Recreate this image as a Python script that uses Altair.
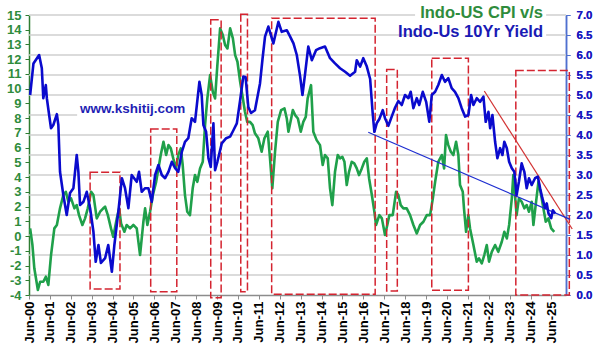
import altair as alt
import pandas as pd

# ---------------- data ----------------
# Indo-US 10Yr yield differential (right axis), decimal years
blue_t = [2000.47, 2000.63, 2000.90, 2001.03, 2001.10, 2001.22, 2001.27, 2001.38, 2001.47, 2001.58,
          2001.75, 2001.82, 2001.90, 2002.06, 2002.22, 2002.38, 2002.54, 2002.70, 2002.78, 2002.86,
          2003.02, 2003.18, 2003.34, 2003.50, 2003.61, 2003.74, 2003.86, 2004.06, 2004.21, 2004.38,
          2004.50, 2004.69, 2004.86, 2005.01, 2005.17, 2005.33, 2005.57, 2005.68, 2005.81, 2005.97,
          2006.13, 2006.29, 2006.45, 2006.61, 2006.77, 2006.93, 2007.09, 2007.25, 2007.41, 2007.56,
          2007.73, 2007.88, 2008.04, 2008.20, 2008.36, 2008.57, 2008.68, 2008.76, 2008.89, 2009.00,
          2009.11, 2009.24, 2009.32, 2009.43, 2009.64, 2009.85, 2010.04, 2010.18, 2010.36, 2010.52,
          2010.67, 2010.78, 2010.91, 2011.04, 2011.23, 2011.47, 2011.59, 2011.71, 2011.87, 2012.11,
          2012.35, 2012.51, 2012.75, 2012.91, 2013.07, 2013.23, 2013.39, 2013.50, 2013.63, 2013.78,
          2013.95, 2014.15, 2014.34, 2014.58, 2014.82, 2015.06, 2015.30, 2015.54, 2015.78, 2016.02,
          2016.10, 2016.26, 2016.41, 2016.58, 2016.74, 2016.86, 2016.94, 2017.06, 2017.18, 2017.34,
          2017.45, 2017.61, 2017.77, 2017.93, 2018.09, 2018.25, 2018.41, 2018.57, 2018.68, 2018.81,
          2018.97, 2019.09, 2019.26, 2019.42, 2019.57, 2019.69, 2019.85, 2020.00, 2020.17, 2020.32,
          2020.48, 2020.64, 2020.80, 2020.96, 2021.12, 2021.28, 2021.44, 2021.57, 2021.68, 2021.84,
          2022.00, 2022.16, 2022.27, 2022.40, 2022.48, 2022.59, 2022.72, 2022.83, 2022.96, 2023.07,
          2023.16, 2023.28, 2023.39, 2023.52, 2023.64, 2023.75, 2023.86, 2023.99, 2024.12, 2024.23,
          2024.34, 2024.47, 2024.63, 2024.76, 2024.87, 2024.98, 2025.11, 2025.19, 2025.27, 2025.40,
          2025.48, 2025.59]
blue_v = [5.0, 5.79, 6.0, 5.67, 4.92, 5.25, 4.92, 4.5, 4.17, 4.25,
          4.52, 4.25, 3.08, 2.5, 2.0, 2.55, 2.67, 3.5, 3.08, 2.25,
          2.33, 2.58, 2.17, 1.58, 0.83, 1.25, 0.8, 0.92, 1.25, 0.58,
          1.25, 2.08, 2.92, 2.67, 2.17, 3.0, 2.83, 3.08, 2.58, 2.67,
          2.67, 2.33, 3.0, 3.25, 3.0, 2.92, 3.08, 3.33, 3.17, 3.08,
          3.58, 3.83, 3.92, 4.42, 4.33, 5.33, 5.0, 4.25, 4.08, 3.42,
          3.2, 4.29, 3.12, 3.33, 3.79, 3.92, 3.96, 4.1, 4.29, 4.87,
          5.46, 5.45, 4.7, 4.55, 4.62, 5.29, 5.9, 6.46, 6.71, 6.29,
          6.83, 6.58, 6.62, 6.46, 6.29, 6.0, 5.46, 5.0, 5.54, 6.21,
          5.87, 6.12, 6.17, 6.21, 5.92, 5.79, 5.67, 5.58, 5.48, 5.58,
          5.87, 5.71, 5.92, 5.71, 5.4, 4.55, 4.08, 4.3, 4.4, 4.62,
          4.42, 4.23, 4.46, 4.68, 4.85, 4.75, 5.0, 4.92, 5.08, 4.67,
          4.92, 4.75, 5.08, 4.83, 4.33, 5.0, 5.08, 5.25, 5.5, 5.33,
          5.42, 5.17, 5.08, 4.92, 4.67, 4.46, 4.5, 5.0, 4.75, 4.92,
          4.83, 4.96, 4.33, 4.58, 4.17, 4.5, 3.83, 3.42, 3.67, 3.5,
          3.83, 3.67, 3.33, 3.17, 3.08, 2.5, 2.83, 3.29, 3.08, 2.67,
          2.92, 2.75, 2.92, 2.96, 2.67, 2.42, 2.17, 2.29, 2.04, 1.92,
          2.12, 2.04]

# Indo-US CPI differential (left axis), decimal years
green_t = [2000.47, 2000.58, 2000.67, 2000.84, 2000.95, 2001.10, 2001.22, 2001.34, 2001.47, 2001.63,
           2001.75, 2001.90, 2002.06, 2002.18, 2002.30, 2002.43, 2002.59, 2002.70, 2002.81, 2002.97,
           2003.10, 2003.23, 2003.39, 2003.50, 2003.66, 2003.82, 2003.97, 2004.06, 2004.19, 2004.34,
           2004.45, 2004.62, 2004.73, 2004.82, 2004.98, 2005.09, 2005.25, 2005.41, 2005.57, 2005.73,
           2005.89, 2005.97, 2006.08, 2006.21, 2006.34, 2006.50, 2006.61, 2006.72, 2006.85, 2006.98,
           2007.09, 2007.20, 2007.32, 2007.45, 2007.56, 2007.68, 2007.77, 2007.88, 2007.99, 2008.12,
           2008.25, 2008.36, 2008.47, 2008.60, 2008.73, 2008.84, 2008.95, 2009.08, 2009.21, 2009.32,
           2009.43, 2009.56, 2009.69, 2009.80, 2009.91, 2010.04, 2010.17, 2010.28, 2010.39, 2010.52,
           2010.65, 2010.75, 2010.86, 2010.99, 2011.12, 2011.23, 2011.39, 2011.55, 2011.68, 2011.84,
           2011.95, 2012.06, 2012.19, 2012.32, 2012.48, 2012.64, 2012.75, 2012.83, 2012.96, 2013.04,
           2013.15, 2013.28, 2013.42, 2013.54, 2013.66, 2013.75, 2013.91, 2014.02, 2014.18, 2014.34,
           2014.47, 2014.58, 2014.71, 2014.82, 2014.93, 2015.06, 2015.19, 2015.30, 2015.41, 2015.51,
           2015.62, 2015.73, 2015.86, 2015.98, 2016.10, 2016.21, 2016.34, 2016.46, 2016.58, 2016.69,
           2016.82, 2016.94, 2017.02, 2017.18, 2017.30, 2017.45, 2017.56, 2017.66, 2017.82, 2017.98,
           2018.09, 2018.20, 2018.33, 2018.49, 2018.65, 2018.81, 2018.97, 2019.13, 2019.29, 2019.45,
           2019.61, 2019.74, 2019.85, 2020.00, 2020.17, 2020.28, 2020.37, 2020.48, 2020.60, 2020.72,
           2020.85, 2020.96, 2021.04, 2021.17, 2021.23, 2021.33, 2021.44, 2021.52, 2021.68, 2021.84,
           2021.95, 2022.08, 2022.20, 2022.32, 2022.43, 2022.56, 2022.72, 2022.87, 2023.04, 2023.16,
           2023.28, 2023.39, 2023.52, 2023.59, 2023.67, 2023.75, 2023.86, 2023.99, 2024.12, 2024.23,
           2024.34, 2024.47, 2024.55, 2024.66, 2024.79, 2024.92, 2025.03, 2025.14, 2025.27, 2025.40,
           2025.55]
green_v = [0.52, -0.61, -2.19, -3.66, -3.1, -3.1, -2.76, -3.32, -1.29, 0.52,
           0.75, 1.88, 2.78, 3.0, 2.33, 2.56, 1.88, 2.1, 1.42, 0.75,
           1.2, 1.88, 3.0, 2.78, 1.2, 1.65, 1.88, 1.99, 1.42, 0.52,
           -0.05, 1.2, 1.88, 0.86, 0.29, 0.75, 0.52, 0.75, 0.52, -1.29,
           0.97, 1.88, 0.75, 1.65, 2.78, 3.68, 4.59, 5.5, 6.4, 5.5,
           6.17, 5.95, 5.27, 4.59, 5.5, 5.95, 4.82, 2.78, 1.65, 1.42,
           3.24, 4.14, 3.68, 4.59, 5.04, 7.53, 9.34, 10.92, 9.79, 9.34,
           11.6, 14.09, 13.64, 12.96, 12.73, 14.09, 13.41, 12.28, 11.83, 10.47,
           9.34, 8.43, 7.75, 7.75, 7.53, 6.97, 6.63, 5.72, 6.63, 7.08,
           5.27, 3.24, 5.72, 7.75, 8.55, 8.66, 7.98, 7.08, 7.98, 8.55,
           8.21, 7.98, 7.08, 7.75, 8.09, 9.34, 10.24, 7.08, 6.51, 6.17,
           4.82, 5.5, 5.27, 3.24, 2.1, 4.36, 5.5, 5.27, 5.38, 5.04,
           3.46, 4.36, 5.04, 4.93, 4.59, 4.14, 4.59, 5.04, 5.27, 3.91,
           2.78, 1.65, 0.75, 1.42, 1.2, 0.07, 0.75, 1.42, 1.42, 3.0,
           2.78, 2.1, 1.88, 1.88, 1.42, 0.75, 0.18, 0.75, 0.97, 1.42,
           1.42, 2.56, 3.68, 5.04, 5.5, 4.59, 6.85, 6.17, 5.72, 5.5,
           6.4, 5.5, 3.46, 3.0, 1.88, 0.29, 1.42, 0.52, -0.61, -1.74,
           -1.51, -1.85, -1.29, -0.61, -1.74, -1.07, -0.61, -1.07, -0.39, 0.29,
           -0.16, 0.75, 2.56, 4.14, 2.78, 1.42, 2.56, 2.33, 1.88, 2.1,
           1.65, 2.33, 0.75, 2.1, 3.68, 2.78, 1.88, 0.97, 1.2, 0.52,
           0.29]

# red dashed boxes (decimal years, right-axis units)
box_x1 = [2003.34, 2006.24, 2009.11, 2010.55, 2012.03, 2017.53, 2019.69, 2023.71]
box_x2 = [2004.77, 2007.49, 2009.61, 2010.87, 2016.98, 2018.04, 2021.44, 2026.27]
box_y1 = [0.15, 0.08, -0.07, 0.08, 0.02, 0.10, 0.12, 0.0]
box_y2 = [3.07, 4.15, 6.88, 7.02, 6.92, 5.64, 5.92, 5.61]

# trend lines: red down-trend and blue long-term trend (right-axis units)
trend_x1 = [2022.20, 2016.65]
trend_x2 = [2026.41, 2026.31]
trend_y1 = [5.10, 4.07]
trend_y2 = [1.65, 1.89]
trend_color = ["#D23232", "#1E2ED0"]

# text annotations
title_lines = ["Indo-US CPI v/s", "Indo-Us 10Yr Yield"]
title_colors = ["#2F8C3C", "#1A1AB4"]
title_x = [2025.01, 2025.01]
title_y = [6.92, 6.44]
site_label = ["www.kshitij.com"]
site_x = [2002.86]
site_y = [4.54]
# white backgrounds behind the text boxes
bg_x1 = [2018.89, 2002.72]
bg_x2 = [2025.16, 2008.12]
bg_y1 = [6.33, 4.42]
bg_y2 = [7.30, 4.90]

left_ticks = [-4, -3, -2, -1, 0, 1, 2, 3, 4, 5, 6, 7, 8, 9, 10, 11, 12, 13, 14, 15]
right_ticks = [0.0, 0.5, 1.0, 1.5, 2.0, 2.5, 3.0, 3.5, 4.0, 4.5, 5.0, 5.5, 6.0, 6.5, 7.0]
x_tick_years = list(range(2000, 2026))
grid_ends = [2000.42, 2026.11]


def dec_to_date(d):
    y = int(d)
    s = pd.Timestamp(year=y, month=1, day=1)
    e = pd.Timestamp(year=y + 1, month=1, day=1)
    return (s + (e - s) * (d - y)).strftime("%Y-%m-%d")


blue_df = pd.DataFrame({"date": [dec_to_date(t) for t in blue_t], "yield_diff": blue_v})
green_df = pd.DataFrame({"date": [dec_to_date(t) for t in green_t], "cpi_diff": green_v})
# gridlines as two-point lines, one per right-axis tick
grid_rows = [{"date": dec_to_date(e), "yield_diff": g, "gid": str(g)}
             for g in right_ticks[1:] for e in grid_ends]
grid_df = pd.DataFrame(grid_rows)
box_df = pd.DataFrame({"date": [dec_to_date(t) for t in box_x1], "x2": [dec_to_date(t) for t in box_x2],
                       "yield_diff": box_y1, "y2": box_y2})
trend_df = pd.DataFrame({"date": [dec_to_date(t) for t in trend_x1], "x2": [dec_to_date(t) for t in trend_x2],
                         "yield_diff": trend_y1, "y2": trend_y2, "c": trend_color})
title_df = pd.DataFrame({"date": [dec_to_date(t) for t in title_x], "yield_diff": title_y,
                         "label": title_lines, "c": title_colors})
site_df = pd.DataFrame({"date": [dec_to_date(t) for t in site_x], "yield_diff": site_y, "label": site_label})
bg_df = pd.DataFrame({"date": [dec_to_date(t) for t in bg_x1], "x2": [dec_to_date(t) for t in bg_x2],
                      "yield_diff": bg_y1, "y2": bg_y2})

FONT = "Liberation Sans"

x_scale = alt.Scale(type="utc", domain=[alt.DateTime(year=2000, month=6, date=1, utc=True),
                                        alt.DateTime(year=2026, month=2, date=10, utc=True)])
x_axis = alt.Axis(
    values=[alt.DateTime(year=y, month=6, date=1, utc=True) for y in x_tick_years],
    labelExpr="utcFormat(datum.value, '%b-%y')",
    labelAngle=-90, labelFont=FONT, labelFontSize=13, labelFontWeight="bold",
    labelColor="#000000", labelPadding=2, labelFlush=False, labelOverlap=False,
    tickSize=4, tickColor="#8C8C8C", domainColor="#8C8C8C", domainWidth=1.5,
    grid=False, title=None,
)

y_left = alt.Scale(domain=[-4, 15], nice=False, zero=False)
y_right = alt.Scale(domain=[0, 7], nice=False, zero=False)
left_axis = alt.Axis(
    orient="left", values=left_ticks, labelExpr="'' + datum.value",
    labelFont=FONT, labelFontSize=13, labelFontWeight="bold", labelColor="#2F8C3C",
    labelPadding=4, tickSize=4, tickColor="#2E7D32", domainColor="#2E7D32", domainWidth=1.5,
    grid=False, title=None, labelOverlap=False)
right_axis = alt.Axis(
    orient="right", values=right_ticks, format=".1f",
    labelFont=FONT, labelFontSize=11.5, labelFontWeight="bold", labelColor="#1A1AC0",
    labelPadding=6, tickSize=4, tickColor="#4F70D0", domainColor="#4F70D0", domainWidth=1.5,
    grid=False, title=None, labelOverlap=False)

X = alt.X("date:T", scale=x_scale, axis=x_axis, title=None)
YR = alt.Y("yield_diff:Q", scale=y_right, axis=right_axis, title=None)

grid = alt.Chart(grid_df).mark_line(color="#CFCFCF", strokeWidth=1.5).encode(
    x=X, y=YR, detail="gid:N",
)

green_line = alt.Chart(green_df).mark_line(color="#1FA04A", strokeWidth=2.6, strokeJoin="round").encode(
    x=X,
    y=alt.Y("cpi_diff:Q", scale=y_left, axis=left_axis, title=None),
)

blue_line = alt.Chart(blue_df).mark_line(color="#0A0ACD", strokeWidth=2.6, strokeJoin="round").encode(
    x=X, y=YR,
)

boxes = alt.Chart(box_df).mark_rect(fillOpacity=0, stroke="#D42430", strokeWidth=1.5,
                                    strokeDash=[8, 3]).encode(
    x=X, x2="x2:T", y=YR, y2="y2:Q",
)

trends = alt.Chart(trend_df).mark_rule(strokeWidth=1.2).encode(
    x=X, x2="x2:T", y=YR, y2="y2:Q",
    color=alt.Color("c:N", scale=None),
)

bg = alt.Chart(bg_df).mark_rect(color="#FFFFFF").encode(
    x=X, x2="x2:T", y=YR, y2="y2:Q",
)

titles = alt.Chart(title_df).mark_text(align="right", baseline="alphabetic", font=FONT,
                                       fontSize=16.5, fontWeight="bold").encode(
    x=X, y=YR, text="label:N",
    color=alt.Color("c:N", scale=None),
)

site = alt.Chart(site_df).mark_text(align="left", baseline="alphabetic", font=FONT,
                                    fontSize=13.5, fontWeight="bold", color="#1F1FB4").encode(
    x=X, y=YR, text="label:N",
)

grid_group = alt.layer(grid, bg)
right_group = alt.layer(boxes, trends, blue_line, titles, site)

chart = alt.layer(grid_group, green_line, right_group).resolve_scale(y="independent").properties(
    width=537, height=280,
    autosize=alt.AutoSizeParams(type="none"),
    padding={"left": 29, "top": 15, "right": 37, "bottom": 56},
    background="#FFFFFF",
).configure_view(stroke=None)

chart.save("out.html", embed_options={"renderer": "svg", "actions": False})
